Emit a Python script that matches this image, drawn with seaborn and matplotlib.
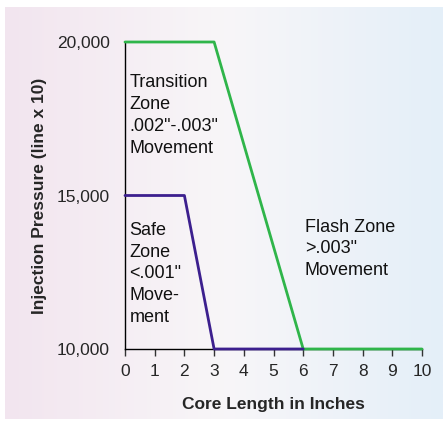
import matplotlib.pyplot as plt
import seaborn as sns
import numpy as np
import pandas as pd
from matplotlib.colors import LinearSegmentedColormap
from matplotlib.ticker import FuncFormatter

# chart data
transition_x = [0, 3, 6, 10]
transition_y = [20000, 20000, 10000, 10000]
safe_x = [0, 2, 3, 6]
safe_y = [15000, 15000, 10000, 10000]
x_ticks = list(range(0, 11))
y_ticks = [10000, 15000, 20000]

sns.set_theme(style="white")
plt.rcParams['font.family'] = ['Liberation Sans', 'DejaVu Sans']

fig = plt.figure(figsize=(4.43, 4.29), dpi=100)
fig.patch.set_facecolor('white')

# gradient background panel
bg = fig.add_axes([5 / 443, 10 / 429, 438 / 443, 412 / 429])
cmap = LinearSegmentedColormap.from_list('bg', ['#f2e5ef', '#f8f6f8', '#e4eff9'])
bg.imshow(np.linspace(0, 1, 256)[None, :], aspect='auto', cmap=cmap, extent=[0, 1, 0, 1])
bg.set_axis_off()

ax = fig.add_axes([125 / 443, 1 - 349 / 429, 297 / 443, 307 / 429])
ax.patch.set_alpha(0)

df_t = pd.DataFrame({'x': transition_x, 'y': transition_y})
df_s = pd.DataFrame({'x': safe_x, 'y': safe_y})
sns.lineplot(data=df_t, x='x', y='y', ax=ax, color='#2fb54a', lw=2, sort=False, clip_on=False, zorder=3)
sns.lineplot(data=df_s, x='x', y='y', ax=ax, color='#3c1f8e', lw=2, sort=False, clip_on=False, zorder=4)

ax.set_xlim(0, 10)
ax.set_ylim(10000, 20000)
ax.set_xticks(x_ticks)
ax.set_yticks(y_ticks)
ax.yaxis.set_major_formatter(FuncFormatter(lambda v, _: f'{int(v):,}'))
ax.set_yticks([10000], minor=True)

for s in ['top', 'right']:
    ax.spines[s].set_visible(False)
for s in ['left', 'bottom']:
    ax.spines[s].set_color('black')
    ax.spines[s].set_linewidth(1)

ax.tick_params(axis='x', direction='out', length=5, width=1, color='#333333',
               labelsize=12.5, pad=6, bottom=True)
ax.tick_params(axis='y', which='major', length=0, labelsize=12.5, pad=11)
ax.tick_params(axis='y', which='minor', length=5, width=1, color='black', left=True)

ax.set_xlabel('Core Length in Inches', fontsize=12.5, fontweight='bold', labelpad=13)
ax.set_ylabel('Injection Pressure (line x 10)', fontsize=12.5, fontweight='bold', labelpad=7)

txt = dict(fontsize=13, va='top', ha='left', linespacing=1.38, color='#111111')
ax.text(0.15, 18950, 'Transition\nZone\n.002"-.003"\nMovement', **txt)
ax.text(0.15, 14150, 'Safe\nZone\n<.001"\nMove-\nment', **txt)
ax.text(6.05, 14250, 'Flash Zone\n>.003"\nMovement', **txt)

fig.savefig('out.png', dpi=100)
